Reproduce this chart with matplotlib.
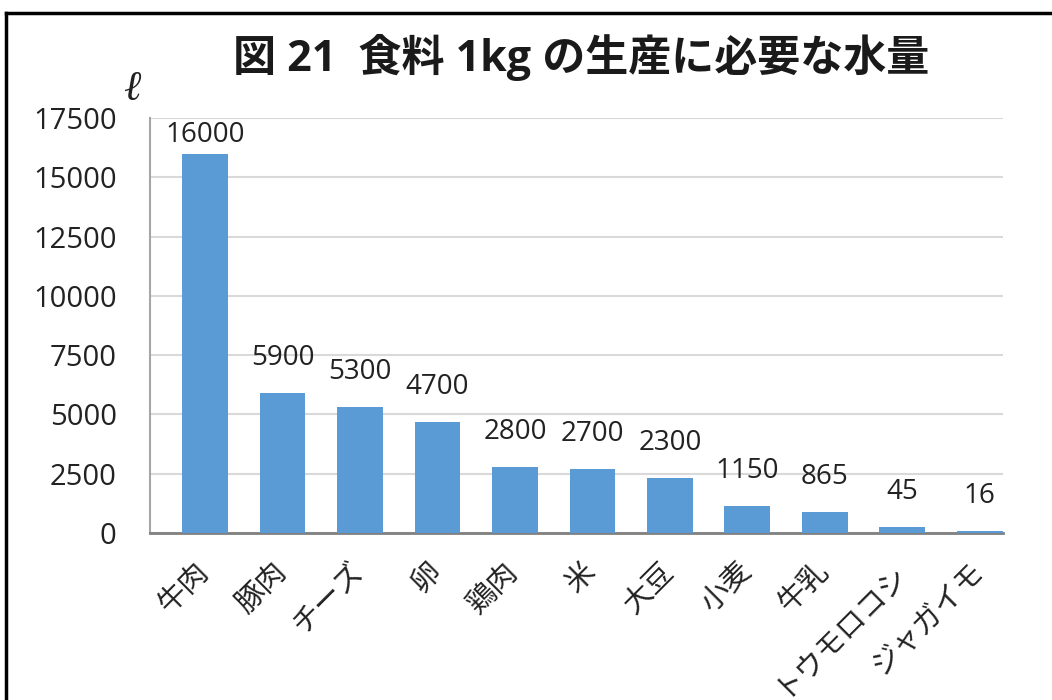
import matplotlib
matplotlib.use("Agg")
import matplotlib.pyplot as plt
from matplotlib.lines import Line2D

plt.rcParams['font.family'] = ['Open Sans', 'Noto Sans CJK JP', 'DejaVu Sans']

categories = ['牛肉', '豚肉', 'チーズ', '卵', '鶏肉', '米', '大豆', '小麦', '牛乳', 'トウモロコシ', 'ジャガイモ']
bar_heights = [16000, 5900, 5300, 4700, 2800, 2700, 2300, 1150, 865, 260, 100]
value_labels = ['16000', '5900', '5300', '4700', '2800', '2700', '2300', '1150', '865', '45', '16']
yticks = [0, 2500, 5000, 7500, 10000, 12500, 15000, 17500]
title = '図 21  食料 1kg の生産に必要な水量'
unit = 'ℓ'

W, H = 1052, 700
fig = plt.figure(figsize=(W / 100, H / 100), dpi=100)
ax_left, ax_right, ax_top, ax_bot = 150, 1003, 118, 533
ax = fig.add_axes([ax_left / W, 1 - ax_bot / H, (ax_right - ax_left) / W, (ax_bot - ax_top) / H])

n = len(categories)
x = list(range(n))
ax.bar(x, bar_heights, width=0.59, color='#5b9bd5', zorder=3)
ax.set_xlim(-0.71, n - 1 + 0.30)
ymax = 17500
ax.set_ylim(0, ymax)
ax.set_yticks(yticks)
ax.set_yticklabels([str(t) for t in yticks], fontsize=21, color='#222222')
ax.set_xticks(x)
ax.set_xticklabels([''] * n)
for xi, cat in zip(x, categories):
    ax.annotate(cat, (xi, 0), xytext=(-8, -17), textcoords='offset points',
                rotation=45, ha='right', va='top', rotation_mode='anchor',
                fontsize=21, color='#222222', family=['Noto Sans CJK JP'],
                annotation_clip=False)
ax.tick_params(axis='both', length=0)
ax.tick_params(axis='y', pad=24)
ax.grid(axis='y', color='#d9d9d9', linewidth=1.5, zorder=0)
for s in ['top', 'right']:
    ax.spines[s].set_visible(False)
ax.spines['left'].set_color('#a6a6a6')
ax.spines['left'].set_linewidth(1.5)
ax.spines['bottom'].set_color('#808080')
ax.spines['bottom'].set_linewidth(2)

px_per_unit = (ax_bot - ax_top) / ymax
for xi, h, lab in zip(x, bar_heights, value_labels):
    gap_px = min(21, (ymax - h) * px_per_unit - 31)
    ax.annotate(lab, (xi, h), xytext=(0, gap_px * 0.72), textcoords='offset points',
                ha='center', va='bottom', fontsize=20, color='#222222')

fig.text(581 / W, 1 - 57 / H, title, ha='center', va='center', fontsize=31,
         fontweight='bold', color='#1a1a1a')
fig.text(132 / W, 1 - 90 / H, unit, ha='center', va='center', fontsize=30,
         family=['Liberation Serif', 'DejaVu Sans'], style='italic', color='#222222')

fig.add_artist(Line2D([6 / W, 1.0], [1 - 13 / H, 1 - 13 / H], transform=fig.transFigure,
                      color='black', linewidth=2.5))
fig.add_artist(Line2D([6 / W, 6 / W], [0, 1 - 13 / H], transform=fig.transFigure,
                      color='black', linewidth=2.5))

fig.savefig('out.png', dpi=100)
